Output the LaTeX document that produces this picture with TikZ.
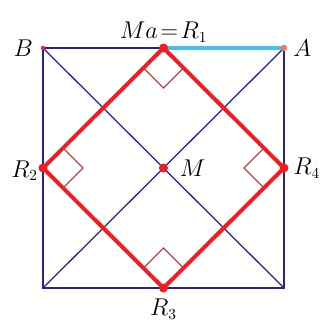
\documentclass[tikz,border=0pt]{standalone}
\usepackage{xcolor}
\usepackage{tikz}
\usetikzlibrary{positioning}

\definecolor{navyline}{RGB}{35,35,145}
\definecolor{skyline}{RGB}{70,190,240}
\definecolor{skyedge}{RGB}{40,130,200}
\definecolor{redline}{RGB}{240,30,30}
\definecolor{anglecol}{RGB}{180,70,70}
\definecolor{salmondot}{RGB}{240,120,90}

\begin{document}
\begin{tikzpicture}[
    x=0.025cm, y=-0.025cm,
    side/.style={draw=navyline, line width=1.4pt},
    diag/.style={draw=navyline, line width=0.9pt},
    rhomb/.style={draw=redline, line width=2.8pt, line join=round},
    rangle/.style={draw=anglecol, line width=1pt},
    lbl/.style={font=\fontsize{16}{18}\selectfont, inner sep=1pt}
]
\useasboundingbox (0,0) rectangle (324,322);

% corners and midpoints
\coordinate (B) at (43,48);
\coordinate (A) at (284,48);
\coordinate (C) at (284,288);
\coordinate (D) at (43,288);
\coordinate (R1) at (163.5,48);
\coordinate (R2) at (43,168);
\coordinate (R3) at (163.5,288);
\coordinate (R4) at (284,168);
\coordinate (M) at (163.5,168);

\draw[side] (B) -- (A) -- (C) -- (D) -- cycle;
\draw[diag] (B) -- (C);
\draw[diag] (A) -- (D);
\draw[draw=skyedge, line width=3.4pt] (R1) -- (A);
\draw[draw=skyline, line width=2.2pt] (R1) -- (A);

\draw[rhomb] (R1) -- (R4) -- (R3) -- (R2) -- cycle;

% right angles
\draw[rangle] ([shift={(-20,20)}]R1) -- ++(20,20) -- ++(20,-20);
\draw[rangle] ([shift={(20,-20)}]R2) -- ++(20,20) -- ++(-20,20);
\draw[rangle] ([shift={(-20,-20)}]R3) -- ++(20,-20) -- ++(20,20);
\draw[rangle] ([shift={(-20,-20)}]R4) -- ++(-20,20) -- ++(20,20);

% points
\fill[redline] (R1) circle (4.5);
\fill[redline] (R2) circle (4.5);
\fill[redline] (R3) circle (4.5);
\fill[redline] (R4) circle (4.5);
\fill[redline] (M) circle (4.5);
\fill[redline] (B) circle (2.2);
\fill[salmondot] (A) circle (3.2);

% labels
\node[lbl, above=3pt of R1] (lR1) {$Ma\!=\!R_1$};
\node[lbl, left=6pt of B] (lB) {$B$};
\node[lbl, right=5.5pt of A] (lA) {$A$};
\node[lbl, left=2.5pt of R2, yshift=-2pt] (lR2) {$R_2$};
\node[lbl, right=10.5pt of M] (lM) {$M$};
\node[lbl, right=5.5pt of R4] (lR4) {$R_4$};
\node[lbl, below=6.5pt of R3] (lR3) {$R_3$};
\end{tikzpicture}
\end{document}
